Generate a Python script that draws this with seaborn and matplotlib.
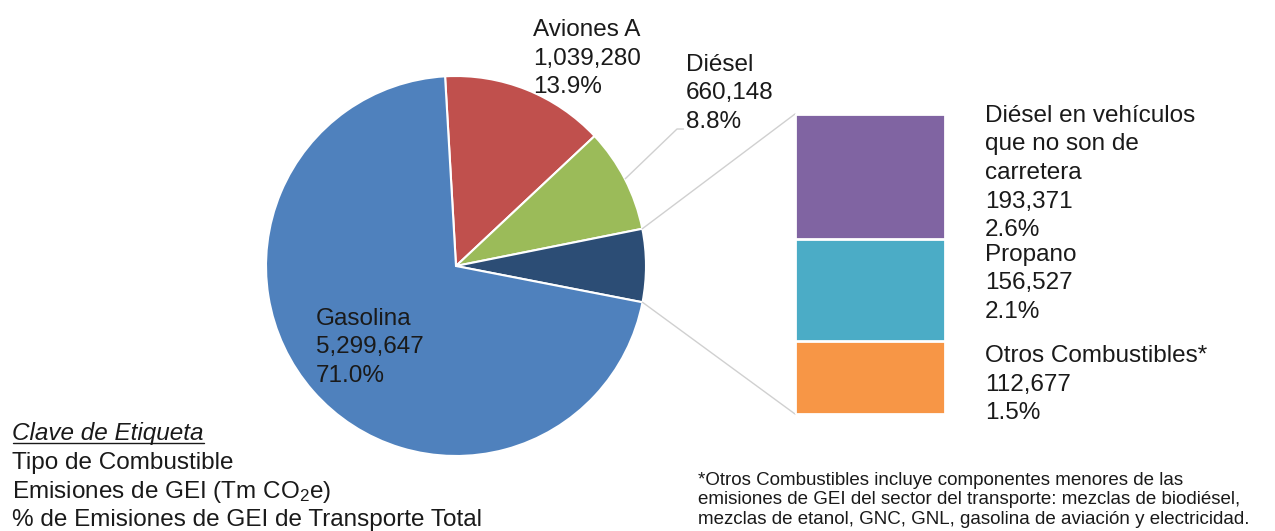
import numpy as np
import matplotlib
matplotlib.use("Agg")
import matplotlib.pyplot as plt
import seaborn as sns

sns.set_theme(style="white")
plt.rcParams["font.family"] = ["Liberation Sans", "DejaVu Sans"]
plt.rcParams["mathtext.fontset"] = "custom"
plt.rcParams["mathtext.rm"] = "Liberation Sans"
plt.rcParams["mathtext.it"] = "Liberation Sans:italic"

# Emissions by fuel type (Tm CO2e)
pie_names = ["Aviones A", "Diésel", "Otros", "Gasolina"]
pie_values = [1039280, 660148, None, 5299647]
pie_colors = ["#C0504D", "#9BBB59", "#2C4D75", "#4F81BD"]

sub_names = ["Diésel en vehículos\nque no son de\ncarretera", "Propano", "Otros Combustibles*"]
sub_values = [193371, 156527, 112677]
sub_colors = ["#8064A2", "#4BACC6", "#F79646"]

pie_values[2] = sum(sub_values)
total = sum(pie_values)

W, H = 1275, 531
TXT = "#1a1a1a"
FS = 17.5

fig = plt.figure(figsize=(W / 100, H / 100), dpi=100)
ax = fig.add_axes([0, 0, 1, 1])

cx, cy, r = 456, H - 266, 190
wedges, _ = ax.pie(pie_values, colors=pie_colors, startangle=93.3, counterclock=False,
                   center=(cx, cy), radius=r,
                   wedgeprops=dict(edgecolor="white", linewidth=1.5))
ax.set_xlim(0, W)
ax.set_ylim(0, H)
ax.set_aspect("equal")
ax.axis("off")


def label_block(x, baselines, lines, size=FS):
    for yb, s in zip(baselines, lines):
        ax.text(x, H - yb, s, fontsize=size, color=TXT, ha="left", va="baseline")


def fmt(v):
    return [f"{v:,}", f"{100 * v / total:.1f}%"]


# Pie labels
label_block(533, [36, 64.5, 93], [pie_names[0]] + fmt(pie_values[0]))
label_block(686, [71, 99.5, 128], [pie_names[1]] + fmt(pie_values[1]))
label_block(316, [325, 353, 381.5], [pie_names[3]] + fmt(pie_values[3]))

# Leader line for Diésel
w = wedges[1]
mid = np.deg2rad((w.theta1 + w.theta2) / 2)
p0 = (cx + r * np.cos(mid), cy + r * np.sin(mid))
ax.plot([p0[0], 677, 684], [p0[1], H - 129, H - 129], color="#d0d0d0", lw=1, solid_capstyle="butt")

# Stacked bar for the small fuels
bx0, bx1, btop, bbot = 795, 945, 114, 414
bax = fig.add_axes([bx0 / W, (H - bbot) / H, (bx1 - bx0) / W, (bbot - btop) / H])
cum = np.cumsum(sub_values[::-1])[::-1]
for c, col in zip(cum, sub_colors):
    sns.barplot(x=[0], y=[c], color=col, width=1.0, saturation=1, ax=bax,
                edgecolor="white", linewidth=2)
bax.set_xlim(-0.5, 0.5)
bax.set_ylim(0, sum(sub_values))
bax.axis("off")

# Connector lines from the dark wedge to the bar
w = wedges[2]
for th, yb in [(w.theta1, bbot), (w.theta2, btop)]:
    t = np.deg2rad(th)
    ax.plot([cx + r * np.cos(t), bx0], [cy + r * np.sin(t), H - yb], color="#d0d0d0", lw=1)

# Bar labels
label_block(985, [121.5, 150, 179, 208, 236.5], sub_names[0].split("\n") + fmt(sub_values[0]))
label_block(985, [260.5, 289.5, 318.5], [sub_names[1]] + fmt(sub_values[1]))
label_block(985, [362, 390.5, 419], [sub_names[2]] + fmt(sub_values[2]))

# Label key
t = ax.text(12, H - 440, "Clave de Etiqueta", fontsize=FS, color=TXT, style="italic",
            ha="left", va="baseline")
label_block(12, [469, 498, 526],
            ["Tipo de Combustible", r"Emisiones de GEI (Tm CO$_{\mathrm{2}}$e)",
             "% de Emisiones de GEI de Transporte Total"])
fig.canvas.draw()
bb = t.get_window_extent()
ax.plot([bb.x0 + 1, bb.x1], [H - 443, H - 443], color=TXT, lw=1)

# Footnote
label_block(698, [485, 504.5, 524],
            ["*Otros Combustibles incluye componentes menores de las",
             "emisiones de GEI del sector del transporte: mezclas de biodiésel,",
             "mezclas de etanol, GNC, GNL, gasolina de aviación y electricidad."], size=13.5)

fig.savefig("out.png", dpi=100)
